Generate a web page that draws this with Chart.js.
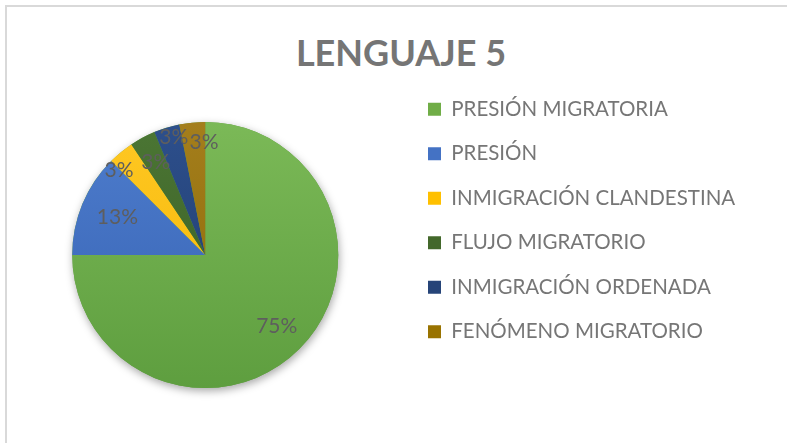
<!DOCTYPE html>
<html>
<head>
<meta charset="utf-8">
<script src="https://cdn.jsdelivr.net/npm/chart.js@4.4.1/dist/chart.umd.min.js"></script>
<style>
  html, body { margin: 0; padding: 0; background: #fff; overflow: hidden; }
  #marco { position: absolute; left: 5px; top: 5px; width: 900px; height: 600px; border: 2px solid #d9d9d9; }
  #titulo { position: absolute; left: 0; top: 32px; width: 802px; text-align: center;
            font: bold 36px Lato, sans-serif; line-height: 40px; color: #757575; }
  #caja { position: absolute; left: 0; top: 0; width: 787px; height: 443px; }
</style>
</head>
<body>
<div id="marco"></div>
<div id="titulo">LENGUAJE 5</div>
<div id="caja"><canvas id="grafico" width="787" height="443"></canvas></div>
<script>
// datos (24 de 32 = 75%, 4 = 13%, 1 = 3%)
const categorias = ["PRESIÓN MIGRATORIA", "PRESIÓN", "INMIGRACIÓN CLANDESTINA", "FLUJO MIGRATORIO", "INMIGRACIÓN ORDENADA", "FENÓMENO MIGRATORIO"];
const menciones = [24, 4, 1, 1, 1, 1];

// estilo
const colores = ["#70AD47", "#4472C4", "#FFC000", "#43682B", "#264478", "#997300"];
const tonos = [
    ["#7bb957", "#5e9e3f"],
    ["#4e7dcd", "#3561b2"],
    ["#ffc824", "#f2b400"],
    ["#4b7634", "#385a22"],
    ["#2d4f8c", "#1f3a69"],
    ["#a47e1c", "#8a6805"]
];
// [fracción del radio, giro en grados] para cada etiqueta de porcentaje
const colocacion = [[0.76, 0], [0.72, 1], [0.91, -6], [0.79, 0], [0.92, 2], [0.85, 5]];
const radio = 133;
const letraLeyenda = 20.5;
const sepLeyenda = 24;
const cuadro = 13;
const bordeLeyenda = 404;   // borde izquierdo de la leyenda
const padIzq = 410.5 - bordeLeyenda;

// ancho de la leyenda para dejar el centro del pastel en su sitio
const medidor = document.createElement('canvas').getContext('2d');
medidor.font = letraLeyenda + 'px Lato';
const textoMax = Math.max(...categorias.map(c => medidor.measureText(c).width));
const anchoLeyenda = sepLeyenda + cuadro + letraLeyenda / 2 + textoMax + 10;
const padDer = 787 - bordeLeyenda - anchoLeyenda;

function degradado(chart, i) {
    const area = chart.chartArea;
    if (!area) return colores[i];
    const cy = (area.top + area.bottom) / 2;
    const g = chart.ctx.createLinearGradient(0, cy - radio, 0, cy + radio);
    g.addColorStop(0, tonos[i][0]);
    g.addColorStop(1, tonos[i][1]);
    return g;
}

const sombra = {
    id: 'sombra',
    beforeDatasetsDraw(chart) {
        const arc = chart.getDatasetMeta(0).data[0];
        if (!arc) return;
        const ctx = chart.ctx;
        ctx.save();
        ctx.shadowColor = 'rgba(0,0,0,0.35)';
        ctx.shadowBlur = 8;
        ctx.shadowOffsetX = 1;
        ctx.shadowOffsetY = 3;
        ctx.fillStyle = tonos[0][1];
        ctx.beginPath();
        ctx.arc(arc.x, arc.y, arc.outerRadius, 0, Math.PI * 2);
        ctx.fill();
        ctx.restore();
    }
};

const etiquetas = {
    id: 'etiquetas',
    afterDatasetsDraw(chart) {
        const ctx = chart.ctx;
        const total = menciones.reduce((a, b) => a + b, 0);
        ctx.save();
        ctx.font = '21px Lato';
        ctx.fillStyle = '#5e5e5e';
        ctx.textAlign = 'center';
        ctx.textBaseline = 'middle';
        chart.getDatasetMeta(0).data.forEach((arc, i) => {
            const p = arc.getProps(['x', 'y', 'startAngle', 'endAngle', 'outerRadius'], true);
            const [f, giro] = colocacion[i];
            const a = (p.startAngle + p.endAngle) / 2 + giro * Math.PI / 180;
            ctx.fillText(Math.round(menciones[i] / total * 100) + '%',
                p.x + Math.cos(a) * p.outerRadius * f,
                p.y + Math.sin(a) * p.outerRadius * f);
        });
        ctx.restore();
    }
};

new Chart(document.getElementById('grafico'), {
    type: 'pie',
    data: {
        labels: categorias,
        datasets: [{
            data: menciones,
            backgroundColor: c => degradado(c.chart, c.dataIndex),
            borderWidth: 0,
            hoverOffset: 0
        }]
    },
    options: {
        responsive: false,
        animation: false,
        devicePixelRatio: 1,
        events: [],
        radius: radio,
        layout: { padding: { left: padIzq, top: 75, bottom: 8, right: padDer } },
        plugins: {
            tooltip: { enabled: false },
            legend: {
                position: 'right',
                align: 'start',
                labels: {
                    boxWidth: cuadro,
                    boxHeight: cuadro,
                    padding: sepLeyenda,
                    color: '#767676',
                    font: { family: 'Lato', size: letraLeyenda },
                    generateLabels: chart => Chart.overrides.pie.plugins.legend.labels.generateLabels(chart)
                        .map((it, i) => ({ ...it, fillStyle: colores[i], strokeStyle: colores[i], lineWidth: 0 }))
                }
            }
        }
    },
    plugins: [sombra, etiquetas]
});
</script>
</body>
</html>
